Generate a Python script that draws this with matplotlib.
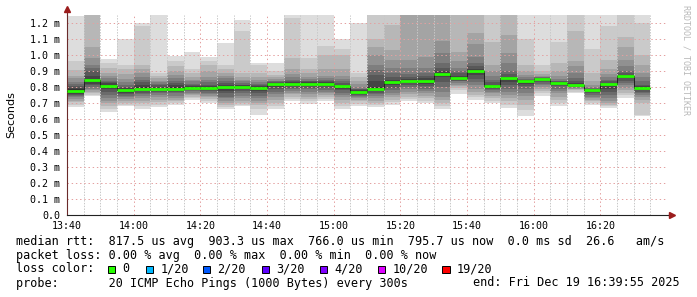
import matplotlib
matplotlib.use("Agg")
import matplotlib.pyplot as plt
from matplotlib.patches import Rectangle
import numpy as np

# 20 sorted ping rtts (ms) per 5-minute step, starting 13:40
pings = [
    [0.677, 0.69, 0.705, 0.715, 0.725, 0.735, 0.745, 0.75, 0.755, 0.76, 0.785, 0.795, 0.805, 0.82, 0.833, 0.854, 0.87, 0.906, 0.964, 1.244],
    [0.743, 0.75, 0.76, 0.77, 0.78, 0.79, 0.80, 0.81, 0.82, 0.83, 0.852, 0.87, 0.90, 0.917, 0.94, 0.979, 1.048, 1.27, 1.32, 1.40],
    [0.645, 0.665, 0.68, 0.70, 0.715, 0.73, 0.75, 0.77, 0.785, 0.797, 0.815, 0.822, 0.83, 0.84, 0.855, 0.87, 0.89, 0.92, 0.948, 0.973],
    [0.68, 0.69, 0.70, 0.71, 0.725, 0.735, 0.745, 0.755, 0.762, 0.77, 0.788, 0.795, 0.80, 0.815, 0.83, 0.85, 0.88, 0.91, 0.94, 1.10],
    [0.665, 0.68, 0.70, 0.715, 0.73, 0.745, 0.755, 0.765, 0.772, 0.78, 0.80, 0.815, 0.83, 0.845, 0.865, 0.885, 0.91, 0.94, 1.18, 1.20],
    [0.675, 0.69, 0.705, 0.72, 0.735, 0.75, 0.76, 0.77, 0.78, 0.785, 0.795, 0.80, 0.81, 0.82, 0.83, 0.84, 0.855, 0.87, 0.89, 1.30],
    [0.69, 0.70, 0.71, 0.72, 0.73, 0.745, 0.76, 0.77, 0.775, 0.78, 0.80, 0.81, 0.825, 0.84, 0.855, 0.875, 0.90, 0.93, 0.96, 0.996],
    [0.72, 0.73, 0.74, 0.75, 0.755, 0.765, 0.775, 0.78, 0.785, 0.79, 0.80, 0.805, 0.81, 0.82, 0.835, 0.845, 0.86, 0.885, 0.91, 1.02],
    [0.70, 0.715, 0.725, 0.735, 0.745, 0.755, 0.765, 0.775, 0.78, 0.785, 0.80, 0.805, 0.815, 0.83, 0.845, 0.865, 0.90, 0.94, 0.96, 0.99],
    [0.66, 0.675, 0.69, 0.70, 0.715, 0.73, 0.74, 0.76, 0.775, 0.795, 0.805, 0.815, 0.825, 0.84, 0.855, 0.87, 0.89, 0.91, 0.94, 1.077],
    [0.68, 0.69, 0.70, 0.715, 0.73, 0.745, 0.76, 0.775, 0.785, 0.795, 0.805, 0.81, 0.815, 0.825, 0.835, 0.845, 0.86, 0.885, 1.15, 1.22],
    [0.625, 0.66, 0.685, 0.70, 0.715, 0.73, 0.745, 0.76, 0.775, 0.79, 0.80, 0.805, 0.81, 0.82, 0.83, 0.845, 0.865, 0.89, 0.94, 0.95],
    [0.66, 0.68, 0.70, 0.72, 0.74, 0.755, 0.77, 0.785, 0.80, 0.815, 0.825, 0.828, 0.83, 0.835, 0.84, 0.85, 0.86, 0.875, 0.90, 0.95],
    [0.71, 0.725, 0.74, 0.755, 0.765, 0.775, 0.785, 0.795, 0.805, 0.815, 0.825, 0.83, 0.835, 0.845, 0.86, 0.88, 0.91, 0.98, 1.23, 1.30],
    [0.695, 0.71, 0.725, 0.74, 0.755, 0.77, 0.785, 0.795, 0.805, 0.815, 0.825, 0.83, 0.835, 0.84, 0.85, 0.865, 0.885, 0.91, 0.98, 1.30],
    [0.71, 0.725, 0.74, 0.75, 0.76, 0.77, 0.78, 0.795, 0.805, 0.815, 0.825, 0.83, 0.835, 0.845, 0.855, 0.87, 0.91, 1.0, 1.056, 1.30],
    [0.66, 0.68, 0.70, 0.72, 0.735, 0.75, 0.765, 0.78, 0.79, 0.80, 0.81, 0.815, 0.825, 0.835, 0.85, 0.87, 0.91, 1.0, 1.04, 1.10],
    [0.68, 0.695, 0.71, 0.72, 0.73, 0.74, 0.745, 0.75, 0.755, 0.76, 0.775, 0.78, 0.785, 0.79, 0.80, 0.82, 0.84, 0.86, 0.885, 1.20],
    [0.677, 0.69, 0.70, 0.715, 0.73, 0.745, 0.755, 0.765, 0.775, 0.78, 0.80, 0.835, 0.875, 0.906, 0.937, 1.0, 1.05, 1.10, 1.30, 1.35],
    [0.69, 0.705, 0.72, 0.735, 0.75, 0.765, 0.78, 0.795, 0.81, 0.825, 0.835, 0.845, 0.86, 0.885, 0.92, 0.97, 1.03, 1.19, 1.30, 1.35],
    [0.71, 0.725, 0.74, 0.755, 0.77, 0.785, 0.80, 0.815, 0.825, 0.833, 0.84, 0.85, 0.86, 0.88, 0.92, 0.97, 1.27, 1.30, 1.35, 1.40],
    [0.70, 0.715, 0.73, 0.745, 0.76, 0.775, 0.79, 0.805, 0.82, 0.835, 0.845, 0.855, 0.87, 0.89, 0.92, 0.99, 1.27, 1.30, 1.35, 1.40],
    [0.66, 0.68, 0.70, 0.72, 0.74, 0.77, 0.80, 0.83, 0.86, 0.876, 0.89, 0.90, 0.92, 0.95, 1.01, 1.09, 1.27, 1.30, 1.35, 1.40],
    [0.757, 0.78, 0.795, 0.805, 0.815, 0.825, 0.835, 0.84, 0.845, 0.852, 0.86, 0.87, 0.885, 0.90, 0.92, 0.96, 1.02, 1.30, 1.35, 1.40],
    [0.72, 0.735, 0.75, 0.77, 0.79, 0.81, 0.83, 0.85, 0.875, 0.896, 0.908, 0.915, 0.93, 0.95, 0.99, 1.07, 1.14, 1.30, 1.35, 1.40],
    [0.70, 0.715, 0.73, 0.745, 0.76, 0.77, 0.78, 0.79, 0.795, 0.80, 0.81, 0.815, 0.83, 0.845, 0.87, 0.90, 0.94, 1.08, 1.30, 1.35],
    [0.67, 0.69, 0.71, 0.73, 0.75, 0.77, 0.79, 0.81, 0.83, 0.848, 0.86, 0.865, 0.88, 0.90, 0.95, 1.01, 1.125, 1.30, 1.35, 1.40],
    [0.62, 0.655, 0.69, 0.72, 0.745, 0.765, 0.785, 0.805, 0.82, 0.837, 0.841, 0.843, 0.845, 0.85, 0.86, 0.875, 0.90, 0.94, 1.10, 1.30],
    [0.745, 0.76, 0.775, 0.79, 0.80, 0.81, 0.82, 0.83, 0.84, 0.848, 0.852, 0.855, 0.857, 0.86, 0.865, 0.87, 0.88, 0.90, 0.94, 1.30],
    [0.68, 0.70, 0.72, 0.74, 0.76, 0.775, 0.79, 0.805, 0.815, 0.824, 0.83, 0.832, 0.835, 0.84, 0.85, 0.87, 0.90, 0.95, 1.08, 1.30],
    [0.76, 0.77, 0.78, 0.785, 0.79, 0.795, 0.80, 0.803, 0.805, 0.807, 0.815, 0.825, 0.835, 0.855, 0.89, 0.93, 0.96, 1.15, 1.30, 1.35],
    [0.69, 0.70, 0.71, 0.72, 0.73, 0.74, 0.75, 0.76, 0.77, 0.776, 0.785, 0.787, 0.79, 0.795, 0.80, 0.815, 0.84, 0.885, 1.035, 1.30],
    [0.667, 0.68, 0.69, 0.70, 0.715, 0.73, 0.75, 0.77, 0.79, 0.814, 0.82, 0.825, 0.835, 0.845, 0.86, 0.88, 0.91, 0.97, 1.18, 1.30],
    [0.733, 0.75, 0.765, 0.78, 0.795, 0.81, 0.825, 0.84, 0.855, 0.867, 0.873, 0.878, 0.885, 0.90, 0.93, 0.97, 1.05, 1.11, 1.25, 1.30],
    [0.62, 0.625, 0.70, 0.72, 0.735, 0.75, 0.76, 0.77, 0.78, 0.787, 0.80, 0.805, 0.815, 0.835, 0.86, 0.89, 0.94, 1.0, 1.20, 1.30],
]
step_min = 5
tick_minutes = [0, 20, 40, 60, 80, 100, 120, 140, 160]
tick_labels = ["13:40", "14:00", "14:20", "14:40", "15:00", "15:20", "15:40", "16:00", "16:20"]
y_ticks = [0.0, 0.1, 0.2, 0.3, 0.4, 0.5, 0.6, 0.7, 0.8, 0.9, 1.0, 1.1, 1.2]
y_labels = ["0.0"] + [f"{v:.1f} m" for v in y_ticks[1:]]

loss_labels = ["0", "1/20", "2/20", "3/20", "4/20", "10/20", "19/20"]
loss_colors = ["#26ff00", "#00b8ff", "#0059ff", "#5e00ff", "#7e00ff", "#dd00ff", "#ff0000"]

line_rtt = "median rtt:  817.5 us avg  903.3 us max  766.0 us min  795.7 us now  0.0 ms sd  26.6   am/s"
line_loss = "packet loss: 0.00 % avg  0.00 % max  0.00 % min  0.00 % now"
line_probe = "probe:       20 ICMP Echo Pings (1000 Bytes) every 300s"
line_end = "end: Fri Dec 19 16:39:55 2025"

W, H = 697, 297
MONO = "DejaVu Sans Mono"


def fx(px):
    return px / W


def fy(py):
    return 1 - py / H


fig = plt.figure(figsize=(W / 100, H / 100), dpi=100)
ax = fig.add_axes([fx(67), fy(215), 601 / W, 200 / H])

p = np.array(pings)
starts = np.arange(len(pings)) * step_min

# smoke: pair k of the sorted pings, lighter outside, darker near the median
for k in range(10):
    g = (19 * (9 - k) + 50) / 255
    lo, hi = p[:, k], p[:, 19 - k]
    ax.bar(starts, hi - lo, bottom=lo, width=step_min, align="edge",
           color=(g, g, g), linewidth=0, zorder=1)

med = np.median(p, axis=1)
ax.step(np.append(starts, starts[-1] + step_min), np.append(med, med[-1]),
        where="post", color="#202020", lw=0.7, zorder=3)
ax.hlines(med, starts, starts + step_min, color="#26ff00", lw=2.0, zorder=4)

ax.set_xlim(0, 180.3)
ax.set_ylim(0, 1.25)

# grid
for m in range(5, 181, 5):
    if m % 20:
        ax.axvline(m, color="#c8c8c8", lw=0.72, ls=(0, (1.4, 1.4)), zorder=2)
for m in tick_minutes[1:]:
    ax.axvline(m, color="#e4a0a0", lw=0.72, ls=(0, (1.4, 2.8)), zorder=2)
for v in y_ticks[1:]:
    ax.axhline(v, color="#e4a0a0", lw=0.72, ls=(0, (1.4, 2.8)), zorder=2)

ax.set_xticks(tick_minutes)
ax.set_xticklabels(tick_labels, family=MONO, fontsize=7.2)
ax.set_yticks(y_ticks)
ax.set_yticklabels(y_labels, family=MONO, fontsize=7.2)
ax.tick_params(length=0, pad=5)
ax.tick_params(axis="x", pad=4.5)

for s in ["top", "right"]:
    ax.spines[s].set_visible(False)
ax.spines["left"].set_color("#6b2b2b")
ax.spines["bottom"].set_color("#222222")
ax.spines["left"].set_linewidth(0.8)
ax.spines["bottom"].set_linewidth(0.8)
ax.set_facecolor("white")

# axis arrows
ax.plot([0, 0], [1.25, 1.28], color="#6b2b2b", lw=0.8, clip_on=False)
ax.plot([0], [1.285], marker="^", ms=4, color="#9b1c1c", clip_on=False, zorder=5)
ax.plot([180.3, 181.2], [0, 0], color="#222222", lw=0.8, clip_on=False)
ax.plot([181.4], [0], marker=">", ms=4, color="#9b1c1c", clip_on=False, zorder=5)

fig.text(fx(11), fy(115), "Seconds", rotation=90, ha="center", va="center",
         fontsize=8, family="DejaVu Sans")
fig.text(fx(686), fy(5), "RRDTOOL / TOBI OETIKER", rotation=270, ha="center",
         va="top", fontsize=6, family=MONO, color="#b8b8b8")

# legend block
fs = 8.45
fig.text(fx(16), fy(241), line_rtt, family=MONO, fontsize=fs, va="center")
fig.text(fx(16), fy(255), line_loss, family=MONO, fontsize=fs, va="center")
fig.text(fx(16), fy(269), "loss color:", family=MONO, fontsize=fs, va="center")
sq_x = [108, 145.7, 203, 261.7, 320, 377.7, 442.3]
for sx, lab, col in zip(sq_x, loss_labels, loss_colors):
    fig.patches.append(Rectangle((fx(sx), fy(272.8)), 7.3 / W, 7.3 / H,
                                 transform=fig.transFigure, facecolor=col,
                                 edgecolor="black", lw=0.7))
    fig.text(fx(sx + 14.5), fy(269), lab, family=MONO, fontsize=fs, va="center")
fig.text(fx(16), fy(283), line_probe, family=MONO, fontsize=fs, va="center")
fig.text(fx(680), fy(283), line_end, family=MONO, fontsize=fs, va="center", ha="right")

fig.savefig("out.png", dpi=100, facecolor="white")
